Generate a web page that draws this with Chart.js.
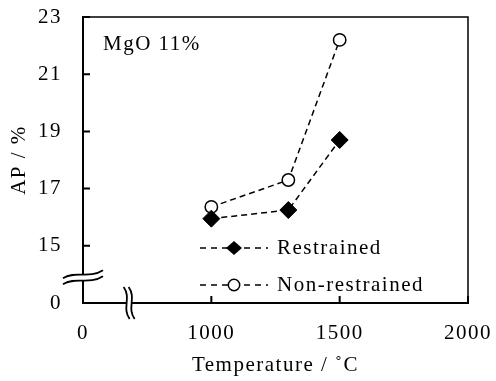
<!DOCTYPE html>
<html><head><meta charset="utf-8">
<script src="https://cdn.jsdelivr.net/npm/chart.js@4.4.1/dist/chart.umd.min.js"></script>
<style>html,body{margin:0;padding:0;background:#fff}#wrap{width:496px;height:381px}</style>
</head><body><div id="wrap"><canvas id="c" width="496" height="381"></canvas></div>
<script>
// ---- data ----
const temperatures = [1000, 1300, 1500];
const restrained = [15.95, 16.25, 18.7];
const nonRestrained = [16.36, 17.3, 22.2];
const seriesNames = ['Restrained', 'Non-restrained'];
// broken axes: the lowest tick position stands for 0
const yTicks = [13, 15, 17, 19, 21, 23];
const yTickLabels = ['0', '15', '17', '19', '21', '23'];
const xTicks = [500, 1000, 1500, 2000];
const xTickLabels = ['0', '1000', '1500', '2000'];
const yBreakAt = 13.97;
const xBreakAt = 670;
const annotationText = 'MgO 11%';
const xTitle = 'Temperature / \u02DAC';
const yTitle = 'AP / %';

const FONT = "'Liberation Serif', 'Times New Roman', serif";
const FS = 21;

const toPts = (xs, ys) => xs.map((x, i) => ({x: x, y: ys[i]}));

const decor = {
  id: 'decor',
  beforeDraw(chart) { chart.ctx.letterSpacing = '1.5px'; },
  afterDraw(chart) {
    const ctx = chart.ctx, a = chart.chartArea;
    const xs = chart.scales.x, ys = chart.scales.y;
    ctx.save();
    ctx.letterSpacing = '1.5px';
    ctx.strokeStyle = '#000';
    // box top/right
    ctx.lineWidth = 1.5;
    ctx.beginPath();
    ctx.moveTo(a.left, a.top); ctx.lineTo(a.right, a.top); ctx.lineTo(a.right, a.bottom);
    ctx.stroke();
    // inner ticks
    ctx.lineWidth = 2;
    ctx.beginPath();
    yTicks.forEach(v => { const p = ys.getPixelForValue(v); ctx.moveTo(a.left, p); ctx.lineTo(a.left + 7, p); });
    xTicks.forEach(v => { const p = xs.getPixelForValue(v); ctx.moveTo(p, a.bottom); ctx.lineTo(p, a.bottom - 7); });
    ctx.stroke();
    // y break
    const by = ys.getPixelForValue(yBreakAt), bx = a.left;
    const yc = (dy) => { ctx.moveTo(bx - 20, by + 3 + dy); ctx.bezierCurveTo(bx - 8, by - 5 + dy, bx + 6, by + 4 + dy, bx + 20, by - 5 + dy); };
    ctx.beginPath();
    ctx.moveTo(bx - 20, by + 3);
    ctx.bezierCurveTo(bx - 8, by - 5, bx + 6, by + 4, bx + 20, by - 5);
    ctx.lineTo(bx + 20, by + 1);
    ctx.bezierCurveTo(bx + 6, by + 10, bx - 8, by + 1, bx - 20, by + 9);
    ctx.closePath();
    ctx.fillStyle = '#fff'; ctx.fill();
    ctx.lineWidth = 1.8;
    ctx.beginPath(); yc(0); yc(6); ctx.stroke();
    // x break
    const qx = xs.getPixelForValue(xBreakAt), qy = a.bottom;
    const xc = (dx) => { ctx.moveTo(qx - 3 + dx, qy - 16); ctx.bezierCurveTo(qx + 5 + dx, qy - 5, qx - 5 + dx, qy + 5, qx + 3 + dx, qy + 16); };
    ctx.beginPath();
    ctx.moveTo(qx - 3, qy - 16);
    ctx.bezierCurveTo(qx + 5, qy - 5, qx - 5, qy + 5, qx + 3, qy + 16);
    ctx.lineTo(qx + 8, qy + 16);
    ctx.bezierCurveTo(qx, qy + 5, qx + 10, qy - 5, qx + 2, qy - 16);
    ctx.closePath();
    ctx.fillStyle = '#fff'; ctx.fill();
    ctx.beginPath(); xc(0); xc(5); ctx.stroke();
    // annotation
    ctx.fillStyle = '#000';
    ctx.font = FS + 'px ' + FONT;
    ctx.textBaseline = 'middle'; ctx.textAlign = 'left';
    ctx.fillText(annotationText, a.left + 20, a.top + 27);
    // legend
    const rows = [a.top + 231, a.top + 268];
    rows.forEach((ry, i) => {
      ctx.save();
      ctx.lineWidth = 1.5; ctx.setLineDash([6, 5]);
      ctx.beginPath(); ctx.moveTo(a.left + 117, ry); ctx.lineTo(a.left + 185, ry); ctx.stroke();
      ctx.restore();
      const mx = a.left + 151;
      ctx.beginPath();
      if (i === 0) {
        ctx.moveTo(mx - 8, ry); ctx.lineTo(mx, ry - 7); ctx.lineTo(mx + 8, ry); ctx.lineTo(mx, ry + 7); ctx.closePath();
        ctx.fillStyle = '#000'; ctx.fill();
      } else {
        ctx.arc(mx, ry, 5.7, 0, Math.PI * 2);
        ctx.fillStyle = '#fff'; ctx.fill(); ctx.lineWidth = 1.5; ctx.stroke();
      }
      ctx.fillStyle = '#000';
      ctx.fillText(seriesNames[i], a.left + 194, ry);
    });
    ctx.restore();
  }
};

new Chart(document.getElementById('c'), {
  type: 'scatter',
  data: {
    datasets: [
      {
        label: seriesNames[0], data: toPts(temperatures, restrained), showLine: true,
        borderColor: '#000', borderWidth: 1.5, borderDash: [6, 4],
        pointStyle: 'rectRot', pointRadius: 8.5, pointBackgroundColor: '#000', pointBorderColor: '#000', pointBorderWidth: 1
      },
      {
        label: seriesNames[1], data: toPts(temperatures, nonRestrained), showLine: true,
        borderColor: '#000', borderWidth: 1.5, borderDash: [6, 4],
        pointStyle: 'circle', pointRadius: 6.2, pointBackgroundColor: '#fff', pointBorderColor: '#000', pointBorderWidth: 1.5
      }
    ]
  },
  options: {
    responsive: false, animation: false, devicePixelRatio: 1,
    layout: {padding: {top: 17, right: 28, left: 0, bottom: 0}},
    plugins: {legend: {display: false}, tooltip: {enabled: false}},
    scales: {
      x: {
        type: 'linear', min: 500, max: 2000,
        afterBuildTicks: s => { s.ticks = xTicks.map(v => ({value: v})); },
        afterFit: s => { s.height = 78; s.paddingLeft = 0; s.paddingRight = 0; },
        grid: {display: false, drawTicks: false},
        border: {display: true, color: '#000', width: 2},
        ticks: {color: '#000', padding: 18, font: {family: FONT, size: FS},
          callback: v => xTickLabels[xTicks.indexOf(v)]},
        title: {display: true, text: xTitle, color: '#000', font: {family: FONT, size: FS}, padding: {top: 0, bottom: 3}}
      },
      y: {
        type: 'linear', min: 13, max: 23,
        afterBuildTicks: s => { s.ticks = yTicks.map(v => ({value: v})); },
        afterFit: s => { s.width = 83; s.paddingTop = 0; s.paddingBottom = 0; },
        grid: {display: false, drawTicks: false},
        border: {display: true, color: '#000', width: 2},
        ticks: {color: '#000', padding: 21, font: {family: FONT, size: FS},
          callback: v => yTickLabels[yTicks.indexOf(v)]},
        title: {display: true, text: yTitle, color: '#000', font: {family: FONT, size: FS}, padding: {top: 7, bottom: 0}}
      }
    }
  },
  plugins: [decor]
});
</script></body></html>
